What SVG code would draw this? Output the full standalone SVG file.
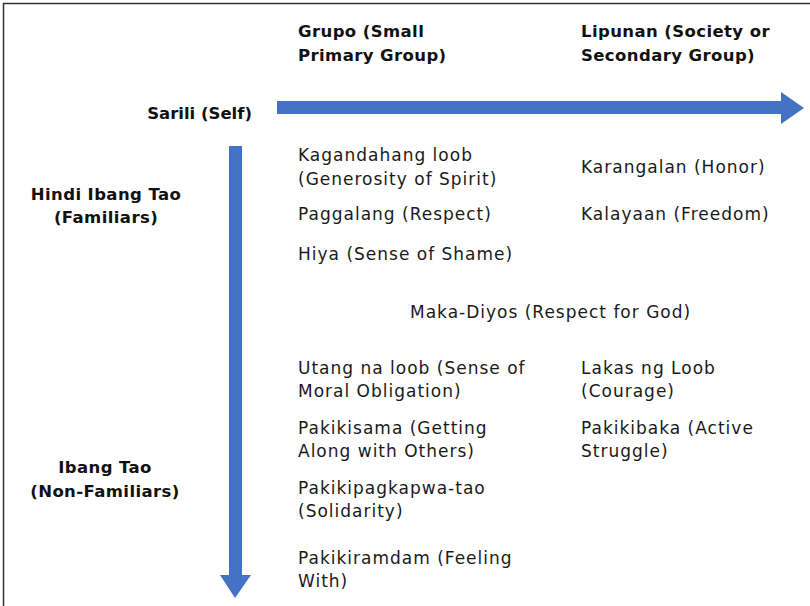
<svg xmlns="http://www.w3.org/2000/svg" width="810" height="606" viewBox="0 0 810 606">
<style>
.t{font-family:"DejaVu Sans",sans-serif;font-size:17px;letter-spacing:1px;fill:#1a1a1a}
.b{font-family:"DejaVu Sans",sans-serif;font-size:16.5px;letter-spacing:0.4px;font-weight:bold;fill:#111}
.ar{fill:#4472c4}
</style>
<rect width="810" height="606" fill="#fff"/>
<path d="M3.5,606 V3.5 H810" fill="none" stroke="#333" stroke-width="1.5"/>
<g id="connectors">
<path class="ar" d="M277,101 H781 V92 L804,108 L781,124 V114 H277 Z"/>
<path class="ar" d="M229,146 H242 V575 H251 L235,598 L220,575 H229 Z"/>
</g>
<g id="header-grupo"><text class="b" x="298" y="37">Grupo (Small</text><text class="b" x="298" y="61">Primary Group)</text></g>
<g id="header-lipunan"><text class="b" x="581" y="37">Lipunan (Society or</text><text class="b" x="581" y="61">Secondary Group)</text></g>
<g id="sarili"><text class="b" x="252" y="119" text-anchor="end" style="letter-spacing:0">Sarili (Self)</text></g>
<g id="hindi"><text class="b" x="106" y="200" text-anchor="middle">Hindi Ibang Tao</text><text class="b" x="106" y="223" text-anchor="middle">(Familiars)</text></g>
<g id="ibang"><text class="b" x="105" y="473" text-anchor="middle">Ibang Tao</text><text class="b" x="105" y="497" text-anchor="middle">(Non-Familiars)</text></g>
<g id="kagandahang"><text class="t" x="298" y="161">Kagandahang loob</text><text class="t" x="298" y="185">(Generosity of Spirit)</text></g>
<g id="paggalang"><text class="t" x="298" y="220">Paggalang (Respect)</text></g>
<g id="hiya"><text class="t" x="298" y="260">Hiya (Sense of Shame)</text></g>
<g id="makadiyos"><text class="t" x="410" y="318">Maka-Diyos (Respect for God)</text></g>
<g id="utang"><text class="t" x="298" y="374">Utang na loob (Sense of</text><text class="t" x="298" y="397">Moral Obligation)</text></g>
<g id="pakikisama"><text class="t" x="298" y="434">Pakikisama (Getting</text><text class="t" x="298" y="457">Along with Others)</text></g>
<g id="pakikipagkapwa"><text class="t" x="298" y="494">Pakikipagkapwa-tao</text><text class="t" x="298" y="517">(Solidarity)</text></g>
<g id="pakikiramdam"><text class="t" x="298" y="564">Pakikiramdam (Feeling</text><text class="t" x="298" y="587">With)</text></g>
<g id="karangalan"><text class="t" x="581" y="173">Karangalan (Honor)</text></g>
<g id="kalayaan"><text class="t" x="581" y="220">Kalayaan (Freedom)</text></g>
<g id="lakas"><text class="t" x="581" y="374">Lakas ng Loob</text><text class="t" x="581" y="397">(Courage)</text></g>
<g id="pakikibaka"><text class="t" x="581" y="434">Pakikibaka (Active</text><text class="t" x="581" y="457">Struggle)</text></g>
</svg>
